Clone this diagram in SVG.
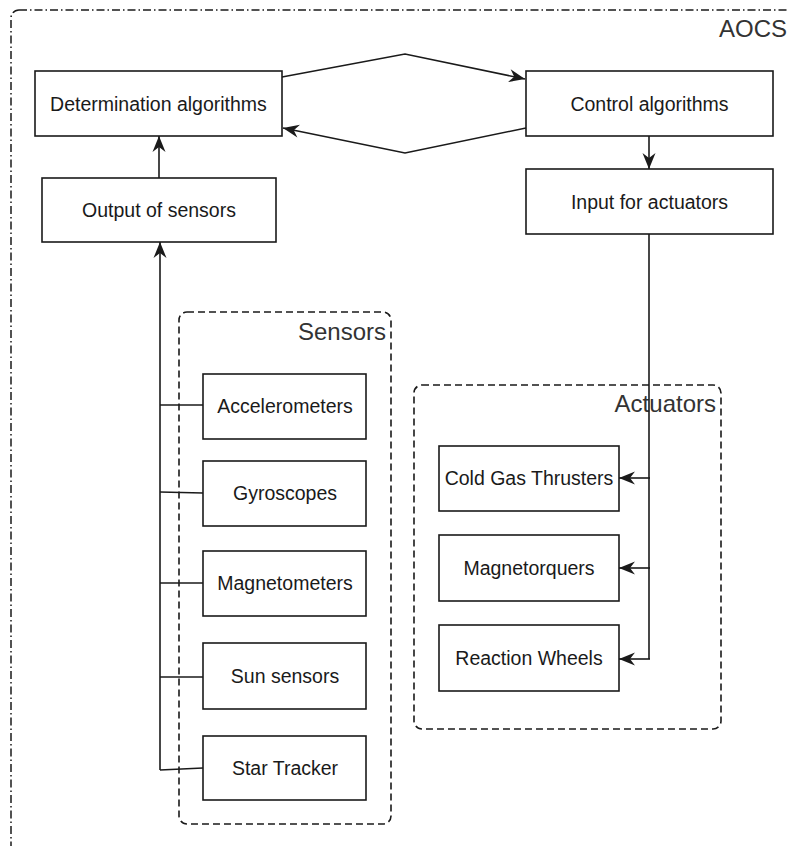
<svg xmlns="http://www.w3.org/2000/svg" width="789" height="846" viewBox="0 0 789 846">
  <style>
    .box { fill: #ffffff; stroke: #1a1a1a; stroke-width: 1.6; }
    .txt { font-family: "Liberation Sans", Arial, sans-serif; font-size: 19.5px; fill: #1a1a1a; text-anchor: middle; }
    .lbl { font-family: "Liberation Sans", Arial, sans-serif; font-size: 24px; fill: #333333; }
    .grp { fill: none; stroke: #1a1a1a; stroke-width: 1.6; stroke-dasharray: 7 4; }
    .frame { fill: none; stroke: #1a1a1a; stroke-width: 1.5; stroke-dasharray: 8 3 1.5 3; }
    .wire { fill: none; stroke: #1a1a1a; stroke-width: 1.6; }
    .arr { marker-end: url(#head); }
  </style>
  <defs>
    <marker id="head" markerUnits="userSpaceOnUse" viewBox="0 0 20 18" refX="18" refY="9" markerWidth="20" markerHeight="18" orient="auto">
      <path d="M2,2.5 L18,9 L2,15.5 L7,9 Z" fill="#1a1a1a"/>
    </marker>
  </defs>
  <rect width="789" height="846" fill="#ffffff"/>

  <!-- outer AOCS boundary -->
  <g id="aocs">
    <rect class="frame" x="11" y="10" width="820" height="880" rx="8"/>
    <text class="lbl" x="787" y="37" text-anchor="end" font-size="23.5">AOCS</text>
  </g>

  <!-- sensor and actuator groupings -->
  <g id="sensors">
    <rect class="grp" x="179" y="312" width="212" height="512" rx="8"/>
    <text class="lbl" x="386" y="340" text-anchor="end">Sensors</text>
  </g>
  <g id="actuators">
    <rect class="grp" x="414" y="385" width="307" height="344" rx="8"/>
    <text class="lbl" x="716" y="412" text-anchor="end">Actuators</text>
  </g>

  <!-- connectors -->
  <g id="connectors">
    <polyline class="wire arr" points="282,77 405,54 525,79"/>
    <polyline class="wire arr" points="526,128 405,153 283,128"/>
    <line class="wire arr" x1="649" y1="136" x2="649" y2="169"/>
    <line class="wire arr" x1="159" y1="178" x2="159" y2="136"/>
    <!-- sensor bus -->
    <line class="wire arr" x1="160" y1="770" x2="160" y2="242"/>
    <line class="wire" x1="160" y1="405" x2="203" y2="405"/>
    <line class="wire" x1="160" y1="492" x2="203" y2="493"/>
    <line class="wire" x1="160" y1="583" x2="203" y2="583"/>
    <line class="wire" x1="160" y1="677" x2="203" y2="677"/>
    <line class="wire" x1="160" y1="770" x2="203" y2="768"/>
    <!-- actuator bus -->
    <polyline class="wire" points="649,234 649,659"/>
    <line class="wire arr" x1="650" y1="478" x2="619" y2="478"/>
    <line class="wire arr" x1="650" y1="568" x2="619" y2="568"/>
    <line class="wire arr" x1="650" y1="659" x2="619" y2="659"/>
  </g>

  <g id="determination">
    <rect class="box" x="35" y="71" width="247" height="65"/>
    <text class="txt" x="158.5" y="111">Determination algorithms</text>
  </g>
  <g id="control">
    <rect class="box" x="526" y="71" width="247" height="65"/>
    <text class="txt" x="649.5" y="111">Control algorithms</text>
  </g>
  <g id="output-sensors">
    <rect class="box" x="42" y="178" width="234" height="64"/>
    <text class="txt" x="159" y="217">Output of sensors</text>
  </g>
  <g id="input-actuators">
    <rect class="box" x="526" y="169" width="247" height="65"/>
    <text class="txt" x="649.5" y="209">Input for actuators</text>
  </g>

  <g id="accelerometers">
    <rect class="box" x="203" y="374" width="163" height="65"/>
    <text class="txt" x="285" y="413">Accelerometers</text>
  </g>
  <g id="gyroscopes">
    <rect class="box" x="203" y="461" width="163" height="65"/>
    <text class="txt" x="285" y="500">Gyroscopes</text>
  </g>
  <g id="magnetometers">
    <rect class="box" x="203" y="551" width="163" height="65"/>
    <text class="txt" x="285" y="590">Magnetometers</text>
  </g>
  <g id="sun-sensors">
    <rect class="box" x="203" y="643" width="163" height="66"/>
    <text class="txt" x="285" y="683">Sun sensors</text>
  </g>
  <g id="star-tracker">
    <rect class="box" x="203" y="736" width="163" height="64"/>
    <text class="txt" x="285" y="775">Star Tracker</text>
  </g>

  <g id="cold-gas">
    <rect class="box" x="439" y="446" width="180" height="65"/>
    <text class="txt" x="529" y="485">Cold Gas Thrusters</text>
  </g>
  <g id="magnetorquers">
    <rect class="box" x="439" y="535" width="180" height="66"/>
    <text class="txt" x="529" y="575">Magnetorquers</text>
  </g>
  <g id="reaction-wheels">
    <rect class="box" x="439" y="625" width="180" height="66"/>
    <text class="txt" x="529" y="665">Reaction Wheels</text>
  </g>
</svg>
